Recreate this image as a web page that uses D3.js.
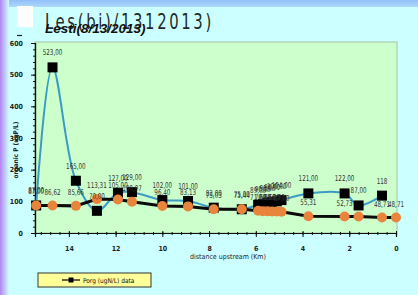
<!DOCTYPE html>
<html>
<head>
<meta charset="utf-8">
<script src="https://cdn.jsdelivr.net/npm/d3@7"></script>
<style>
  body { margin: 0; background: #ccffff; }
  svg text { font-family: "Liberation Sans Narrow", "DejaVu Sans Condensed", sans-serif; }
</style>
</head>
<body>
<div id="chart"></div>
<script>
// Porg data (blue line, black squares)
const porgKm = [15.4, 14.7, 13.7, 12.8, 11.9, 11.3, 10.0, 8.9, 7.8, 6.6, 5.9, 5.7, 5.5, 5.3, 5.1, 4.9, 3.75, 2.2, 1.6, 0.6];
const porgVals = [87, 523, 165, 70, 127, 129, 104, 101, 80, 75, 89, 92, 96, 98, 100, 104, 125, 125, 87, 118];
const porgLabels = ["87,00", "523,00", "165,00", "70,00", "127,00", "129,00", "102,00", "101,00", "83,00", "75,00",
  "89,00", "90,00", "98,00", "96,00", "100,00", "104,00", "121,00", "122,00", "87,00", "118"];

// model (black line, orange circles)
const modelKm = [15.4, 14.7, 13.7, 12.8, 11.9, 11.3, 10.0, 8.9, 7.8, 6.6, 5.9, 5.7, 5.5, 5.3, 5.1, 4.9, 3.75, 2.2, 1.6, 0.6, 0];
const modelVals = [87, 86.62, 85.66, 107, 106, 99, 85, 84, 75, 75, 70, 69, 69, 68, 68, 67, 53, 52, 52, 48.71, 48.71];
const modelLabels = ["87,00", "86,62", "85,66", "113,31", "105,00", "100,97", "96,40", "83,13", "75,03", "73,44",
  "71,00", "70,00", "69,50", "69,00", "68,00", "67,00", "55,31", "52,73", "", "48,71", "48,71"];

const xTicks = [14, 12, 10, 8, 6, 4, 2, 0];
const yTicks = [0, 100, 200, 300, 400, 500, 600];

const width = 418, height = 295;
const svg = d3.select("#chart").append("svg")
  .attr("width", width)
  .attr("height", height)
  .style("display", "block");

const defs = svg.append("defs");
const gl = defs.append("linearGradient").attr("id", "leftStrip");
gl.append("stop").attr("offset", "0%").attr("stop-color", "#b383f2");
gl.append("stop").attr("offset", "100%").attr("stop-color", "#ccffff");
const gt = defs.append("linearGradient").attr("id", "topStrip")
  .attr("x1", 0).attr("x2", 0).attr("y1", 0).attr("y2", 1);
gt.append("stop").attr("offset", "0%").attr("stop-color", "#92bff8");
gt.append("stop").attr("offset", "100%").attr("stop-color", "#aed8ff");

svg.append("rect").attr("width", width).attr("height", height).attr("fill", "#ccffff");
svg.append("rect").attr("width", width).attr("height", 7).attr("fill", "url(#topStrip)");
svg.append("rect").attr("width", 9).attr("height", height).attr("fill", "url(#leftStrip)");

// white box and title
svg.append("rect").attr("x", 17).attr("y", 6).attr("width", 16).attr("height", 21).attr("fill", "#fff");
svg.append("text")
  .attr("transform", "translate(45,29) scale(0.75,1)")
  .attr("font-size", "22px")
  .attr("letter-spacing", "3.5px")
  .attr("fill", "#1f2a2a")
  .style("font-family", "'DejaVu Sans Condensed', sans-serif")
  .text("Les(bi)/1312013)");
svg.append("text")
  .attr("x", 45).attr("y", 33)
  .attr("font-size", "13.5px")
  .attr("font-weight", "bold")
  .attr("font-style", "italic")
  .attr("fill", "#111")
  .style("font-family", "'Liberation Sans', Arial, sans-serif")
  .text("Lesti(8/13/2013)");
svg.append("line").attr("x1", 17).attr("x2", 22).attr("y1", 35.5).attr("y2", 35.5)
  .attr("stroke", "#222").attr("stroke-width", 1.2);

const x = d3.scaleLinear().domain([15.45, 0]).range([35, 396]);
const y = d3.scaleLinear().domain([0, 600]).range([233, 43]);

// plot area
svg.append("rect")
  .attr("x", x.range()[0]).attr("y", 42)
  .attr("width", x.range()[1] - x.range()[0] + 1)
  .attr("height", y(0) - 42)
  .attr("fill", "#ccffcc")
  .attr("stroke", "#a6c4a6");

// axes
const yMinor = svg.append("g").attr("transform", `translate(${x.range()[0]},0)`)
  .call(d3.axisLeft(y).tickValues(d3.range(0, 601, 20)).tickSize(2).tickFormat(""));
const yAxis = svg.append("g").attr("transform", `translate(${x.range()[0]},0)`)
  .call(d3.axisLeft(y).tickValues(yTicks).tickSize(4).tickPadding(8));
const xMinor = svg.append("g").attr("transform", `translate(0,${y(0)})`)
  .call(d3.axisBottom(x).tickValues(d3.range(0, 15.3, 0.4)).tickSize(2).tickFormat(""));
const xAxis = svg.append("g").attr("transform", `translate(0,${y(0)})`)
  .call(d3.axisBottom(x).tickValues(xTicks).tickSize(4).tickPadding(9));
xAxis.selectAll(".tick line").attr("y1", -2);
xMinor.selectAll(".tick line").attr("y1", -1);

[yMinor, yAxis, xMinor, xAxis].forEach(g => {
  g.select(".domain").attr("stroke", "#111").attr("stroke-width", 1.2);
  g.selectAll(".tick line").attr("stroke", "#111");
  g.selectAll("text")
    .attr("font-size", "7px")
    .attr("font-weight", "bold")
    .attr("fill", "#222")
    .style("font-family", "'Liberation Sans Narrow', 'DejaVu Sans Condensed', sans-serif");
});

svg.append("text")
  .attr("transform", "translate(18,150) rotate(-90)")
  .attr("text-anchor", "middle")
  .attr("font-size", "6.5px")
  .attr("font-weight", "bold")
  .attr("fill", "#222")
  .text("organic P (ugP/L)");

svg.append("text")
  .attr("x", 228).attr("y", 259)
  .attr("text-anchor", "middle")
  .attr("font-size", "7px")
  .attr("fill", "#222")
  .text("distance upstream (Km)");

// series
const porg = porgKm.map((k, i) => ({ km: k, v: porgVals[i], label: porgLabels[i] }));
const model = modelKm.map((k, i) => ({ km: k, v: modelVals[i], label: modelLabels[i] }));

const blueLine = d3.line()
  .x(d => x(d.km))
  .y(d => y(d.v))
  .curve(d3.curveCatmullRom.alpha(0.5));
svg.append("path")
  .datum(porg)
  .attr("fill", "none")
  .attr("stroke", "#3b9bc6")
  .attr("stroke-width", 2)
  .attr("d", blueLine);

const sq = 10;
svg.append("g").selectAll("rect")
  .data(porg)
  .join("rect")
  .attr("x", d => x(d.km) - sq / 2)
  .attr("y", d => y(d.v) - sq / 2)
  .attr("width", sq)
  .attr("height", sq)
  .attr("fill", "#000");

const blackLine = d3.line()
  .x(d => x(d.km))
  .y(d => y(d.v));
svg.append("path")
  .datum(model)
  .attr("fill", "none")
  .attr("stroke", "#0a0a0a")
  .attr("stroke-width", 3)
  .attr("d", blackLine);

svg.append("g").selectAll("circle")
  .data(model)
  .join("circle")
  .attr("cx", d => x(d.km))
  .attr("cy", d => y(d.v))
  .attr("r", 5)
  .attr("fill", "#e8843c");

// value labels, horizontally squeezed like the narrow font of the original
const labelG = svg.append("g")
  .attr("font-size", "8px")
  .attr("fill", "#333")
  .attr("text-anchor", "middle");
labelG.selectAll("text.p")
  .data(porg)
  .join("text")
  .attr("class", "p")
  .attr("transform", d => `translate(${x(d.km)},${y(d.v) - 12}) scale(0.78,1)`)
  .text(d => d.label);
labelG.selectAll("text.m")
  .data(model)
  .join("text")
  .attr("class", "m")
  .attr("transform", d => `translate(${x(d.km)},${y(d.v) - 11}) scale(0.78,1)`)
  .text(d => d.label);

// legend
const leg = svg.append("g").attr("transform", "translate(38,273)");
leg.append("rect")
  .attr("width", 113).attr("height", 14)
  .attr("fill", "#ffff99")
  .attr("stroke", "#333");
leg.append("line")
  .attr("x1", 24).attr("x2", 42).attr("y1", 7).attr("y2", 7)
  .attr("stroke", "#000").attr("stroke-width", 1.2);
leg.append("rect")
  .attr("x", 30.5).attr("y", 4.5).attr("width", 5).attr("height", 5)
  .attr("fill", "#000");
leg.append("text")
  .attr("x", 45).attr("y", 10)
  .attr("font-size", "6.5px")
  .attr("fill", "#111")
  .text("Porg (ugN/L) data");
</script>
</body>
</html>
